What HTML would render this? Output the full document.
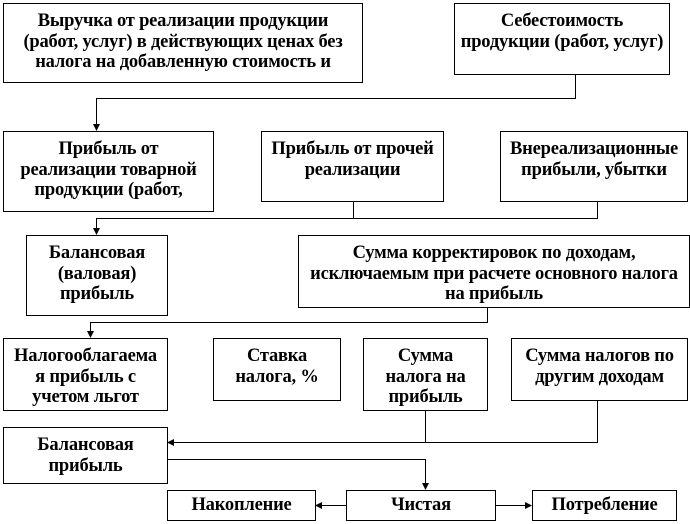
<!DOCTYPE html>
<html><head><meta charset="utf-8"><style>
body{margin:0;width:690px;height:524px;background:#fff;position:relative;overflow:hidden;font-family:"Liberation Serif",serif;}
.b{position:absolute;border:1px solid #000;box-sizing:border-box;text-align:center;font-weight:bold;font-size:18.5px;line-height:20.5px;overflow:hidden;padding-top:7px;color:#000;letter-spacing:-0.2px;white-space:nowrap}
svg{position:absolute;left:0;top:0}
</style></head><body>
<svg width="690" height="524">
<g stroke="#000" stroke-width="1" fill="none">
<polyline points="575.5,74 575.5,98.5 96.5,98.5 96.5,126"/>
<polyline points="353.5,201 353.5,218.5"/>
<polyline points="597.5,201 597.5,218.5 96.5,218.5 96.5,230"/>
<polyline points="487.5,307 487.5,322.5 90.5,322.5 90.5,333"/>
<polyline points="425.5,410 425.5,442.5 172,442.5"/>
<polyline points="597.5,400 597.5,442.5 425.5,442.5"/>
<polyline points="167,459.5 425.5,459.5 425.5,485"/>
<line x1="346" y1="505.5" x2="320" y2="505.5"/>
<line x1="495" y1="505.5" x2="527" y2="505.5"/>
</g>
<g fill="#000">
<polygon points="93,124 100,124 96.5,131"/>
<polygon points="93,228 100,228 96.5,235"/>
<polygon points="87,331 94,331 90.5,338"/>
<polygon points="174,439 174,446 167,442.5"/>
<polygon points="422,483 429,483 425.5,490"/>
<polygon points="322,502 322,509 315,505.5"/>
<polygon points="525,502 525,509 532,505.5"/>
</g>
</svg>
<div class="b" style="left:3px;top:3px;width:360px;height:80px">Выручка от реализации продукции<br>(работ, услуг) в действующих ценах без<br>налога на добавленную стоимость и</div>
<div class="b" style="left:454px;top:3px;width:216px;height:72px">Себестоимость<br>продукции (работ, услуг)</div>
<div class="b" style="left:3px;top:131px;width:211px;height:81px">Прибыль от<br>реализации товарной<br>продукции (работ,</div>
<div class="b" style="left:261px;top:131px;width:183px;height:71px">Прибыль от прочей<br>реализации</div>
<div class="b" style="left:500px;top:131px;width:188px;height:71px">Внереализационные<br>прибыли, убытки</div>
<div class="b" style="left:26px;top:235px;width:142px;height:81px">Балансовая<br>(валовая)<br>прибыль</div>
<div class="b" style="left:298px;top:235px;width:392px;height:73px">Сумма корректировок по доходам,<br>исключаемым при расчете основного налога<br>на прибыль</div>
<div class="b" style="left:3px;top:338px;width:165px;height:73px">Налогооблагаема<br>я прибыль с<br>учетом льгот</div>
<div class="b" style="left:213px;top:338px;width:128px;height:63px">Ставка<br>налога, %</div>
<div class="b" style="left:363px;top:338px;width:125px;height:73px">Сумма<br>налога на<br>прибыль</div>
<div class="b" style="left:511px;top:338px;width:177px;height:63px">Сумма налогов по<br>другим доходам</div>
<div class="b" style="left:3px;top:427px;width:165px;height:57px">Балансовая<br>прибыль</div>
<div class="b" style="left:167px;top:490px;width:149px;height:31px;padding-top:4px">Накопление</div>
<div class="b" style="left:346px;top:490px;width:150px;height:31px;padding-top:4px">Чистая</div>
<div class="b" style="left:532px;top:490px;width:145px;height:31px;padding-top:4px">Потребление</div>
</body></html>
